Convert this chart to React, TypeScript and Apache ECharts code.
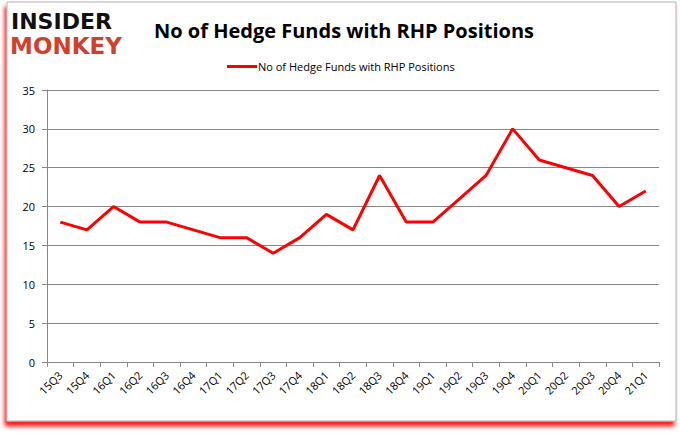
import React, { useEffect, useRef } from "react";
import * as echarts from "echarts";

const categories = ["15Q3","15Q4","16Q1","16Q2","16Q3","16Q4","17Q1","17Q2","17Q3","17Q4","18Q1","18Q2","18Q3","18Q4","19Q1","19Q2","19Q3","19Q4","20Q1","20Q2","20Q3","20Q4","21Q1"];
const values = [18,17,20,18,18,17,16,16,14,16,19,17,24,18,18,21,24,30,26,25,24,20,22];
const seriesName = "No of Hedge Funds with RHP Positions";
const title = "No of Hedge Funds with RHP Positions";

export default function App() {
  const ref = useRef<HTMLDivElement>(null);
  useEffect(() => {
    document.body.style.margin = "0";
    const chart = echarts.init(ref.current!, null, { renderer: "svg" });
    chart.setOption({
      animation: false,
      backgroundColor: "#ffffff",
      title: {
        text: title,
        left: 339,
        top: 15,
        textAlign: "center",
        textStyle: { fontFamily: "Open Sans", fontWeight: "bold", fontSize: 20, color: "#000" },
      },
      legend: {
        data: [seriesName],
        top: 56,
        left: 222,
        itemWidth: 30,
        itemHeight: 3,
        itemGap: 4,
        icon: "rect",
        textStyle: { fontFamily: "Open Sans", fontSize: 11, color: "#000", padding: [0, 0, 0, -4] },
      },
      grid: { left: 47, right: 21, top: 90, bottom: 71 },
      xAxis: {
        type: "category",
        data: categories,
        boundaryGap: true,
        axisLine: { lineStyle: { color: "#888", width: 1 } },
        axisTick: { show: true, alignWithLabel: false, length: 5, lineStyle: { color: "#888" } },
        axisLabel: { rotate: 45, interval: 0, fontFamily: "Open Sans", fontSize: 11, color: "#000", margin: 11 },
      },
      yAxis: {
        type: "value",
        min: 0,
        max: 35,
        interval: 5,
        axisLine: { show: true, lineStyle: { color: "#888" } },
        axisTick: { show: true, length: 5, lineStyle: { color: "#888" } },
        axisLabel: { fontFamily: "Open Sans", fontSize: 11, color: "#000", margin: 12 },
        splitLine: { lineStyle: { color: "#888", width: 1 } },
      },
      series: [
        {
          name: seriesName,
          type: "line",
          data: values,
          symbol: "none",
          lineStyle: { color: "#ff0000", width: 3 },
          itemStyle: { color: "#ff0000" },
        },
      ],
      graphic: [
        {
          type: "rect",
          z: -10,
          shape: { x: 7, y: 2, width: 669, height: 419 },
          style: {
            fill: "#fff",
            stroke: "#b0b0b0",
            lineWidth: 1,
            shadowBlur: 4,
            shadowColor: "rgba(255,0,0,0.9)",
            shadowOffsetX: -2,
            shadowOffsetY: 5,
          },
        },
        {
          type: "text",
          left: 11,
          top: 10,
          style: {
            text: "INSIDER",
            fontFamily: "DejaVu Sans",
            fontWeight: "bold",
            fontSize: 22,
            fill: "#111",
          },
        },
        {
          type: "text",
          left: 10,
          top: 34,
          style: {
            text: "MONKEY",
            fontFamily: "DejaVu Sans",
            fontWeight: "bold",
            fontSize: 23,
            fill: "#d0402a",
          },
        },
      ],
    });
    return () => chart.dispose();
  }, []);
  return <div ref={ref} style={{ width: 680, height: 433, position: "fixed", left: 0, top: 0 }} />;
}
